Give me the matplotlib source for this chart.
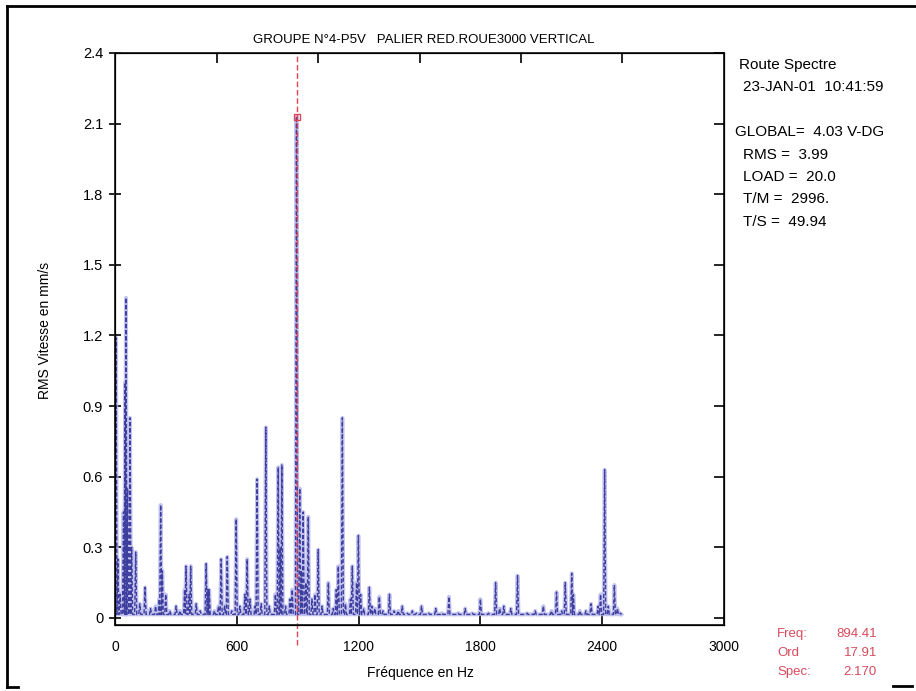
import matplotlib
matplotlib.use("Agg")
import matplotlib.pyplot as plt
from matplotlib.lines import Line2D

plt.rcParams['font.family'] = ['Liberation Sans', 'DejaVu Sans']

# spectrum peaks (Hz, mm/s RMS)
peak_freq = [5, 14, 25, 42, 50, 54, 62, 74, 82, 102, 122, 148, 175, 200, 218, 225, 233, 250,
             270, 301, 320, 343, 350, 365, 373, 400, 420, 449, 458, 464, 490, 510, 523, 540,
             553, 575, 597, 615, 640, 651, 665, 690, 700, 720, 743, 760, 790, 804, 814, 822,
             840, 862, 873, 894, 910, 918, 927, 940, 952, 970, 985, 1001, 1020, 1051, 1075,
             1090, 1100, 1120, 1135, 1160, 1169, 1190, 1199, 1210, 1225, 1253, 1265, 1280,
             1302, 1320, 1352, 1375, 1395, 1415, 1440, 1465, 1485, 1510, 1545, 1580, 1610,
             1645, 1690, 1725, 1760, 1800, 1840, 1875, 1895, 1915, 1950, 1983, 2030, 2070,
             2110, 2150, 2175, 2200, 2218, 2250, 2258, 2290, 2320, 2345, 2380, 2392, 2412,
             2430, 2460, 2475, 2490]
peak_amp = [1.19, 0.25, 0.10, 0.45, 1.00, 1.36, 0.55, 0.85, 0.30, 0.28, 0.06, 0.13, 0.04, 0.05,
            0.08, 0.48, 0.20, 0.10, 0.03, 0.05, 0.03, 0.12, 0.22, 0.10, 0.22, 0.06, 0.03, 0.23,
            0.12, 0.12, 0.03, 0.05, 0.25, 0.05, 0.26, 0.03, 0.42, 0.05, 0.10, 0.25, 0.08, 0.05,
            0.59, 0.06, 0.81, 0.05, 0.10, 0.64, 0.30, 0.65, 0.05, 0.08, 0.12, 2.13, 0.55, 0.20,
            0.45, 0.15, 0.43, 0.08, 0.10, 0.29, 0.05, 0.15, 0.04, 0.12, 0.22, 0.85, 0.06, 0.08,
            0.22, 0.15, 0.35, 0.10, 0.04, 0.13, 0.05, 0.04, 0.09, 0.03, 0.10, 0.03, 0.03, 0.05,
            0.02, 0.03, 0.02, 0.05, 0.02, 0.04, 0.02, 0.09, 0.02, 0.04, 0.02, 0.08, 0.02, 0.15,
            0.04, 0.05, 0.04, 0.18, 0.02, 0.03, 0.05, 0.03, 0.11, 0.03, 0.15, 0.19, 0.10, 0.03,
            0.03, 0.06, 0.05, 0.10, 0.63, 0.05, 0.14, 0.04, 0.02]
noise_floor = 0.015

cursor_freq = 894.41
cursor_spec = 2.13

x_ticks = [0, 600, 1200, 1800, 2400, 3000]
top_ticks = [500, 1000, 1500, 2000, 2500]
y_ticks = [0, 0.3, 0.6, 0.9, 1.2, 1.5, 1.8, 2.1, 2.4]
y_labels = ['0', '0.3', '0.6', '0.9', '1.2', '1.5', '1.8', '2.1', '2.4']

info_lines = [("Route Spectre", 739, 65), ("23-JAN-01  10:41:59", 743, 87),
              ("GLOBAL=  4.03 V-DG", 735, 132), ("RMS =  3.99", 743, 155),
              ("LOAD =  20.0", 743, 177), ("T/M =  2996.", 743, 199),
              ("T/S =  49.94", 743, 222)]
cursor_names = ["Freq:", "Ord", "Spec:"]
cursor_vals = ["894.41", "17.91", "2.170"]

W, H = 916, 691
fig = plt.figure(figsize=(W / 100, H / 100), dpi=100)
ax = fig.add_axes([115 / W, 1 - 625 / H, (724 - 115) / W, (625 - 53) / H])

# build the spike trace
xs, ys = [0], [noise_floor]
for f, a in sorted(zip(peak_freq, peak_amp)):
    xs += [f - 5, f, f + 5]
    ys += [noise_floor, a, noise_floor]

ax.plot(xs, ys, color='#b4b4ec', lw=2.8, alpha=0.8)
ax.plot(xs, ys, color='#3e3e9e', lw=1.0, dashes=(3, 1.5))

# cursor
ax.plot([cursor_freq, cursor_freq], [-0.115, 2.4], color='#e04555', lw=1.0,
        dashes=(4, 2), clip_on=False)
ax.plot([cursor_freq], [cursor_spec], marker='s', ms=5, mfc='none', mec='#e04555', mew=1)

ax.set_xlim(0, 3000)
ax.set_ylim(-0.03, 2.4)
ax.set_xticks(x_ticks)
ax.set_yticks(y_ticks)
ax.set_yticklabels(y_labels)
ax.tick_params(axis='x', direction='in', length=7, width=1.2, pad=11, labelsize=10)
ax.tick_params(axis='y', direction='inout', length=9, width=1.2, pad=4, labelsize=10.5)
for s in ax.spines.values():
    s.set_linewidth(1.3)
    s.set_color('#222222')

ax2 = ax.twinx()
ax2.set_ylim(-0.03, 2.4)
ax2.set_yticks(y_ticks)
ax2.tick_params(direction='in', length=7, width=1.2, labelright=False)
ax3 = ax.twiny()
ax3.set_xlim(0, 3000)
ax3.set_xticks(top_ticks)
ax3.tick_params(direction='in', length=7, width=1.2, labeltop=False)

fig.text(424 / W, 1 - 40 / H, "GROUPE N°4-P5V   PALIER RED.ROUE3000 VERTICAL",
         ha='center', va='center', fontsize=9.5)
fig.text(45 / W, 1 - 330 / H, "RMS Vitesse en mm/s", rotation=90,
         ha='center', va='center', fontsize=10)
fig.text(420 / W, 1 - 673 / H, "Fréquence en Hz", ha='center', va='center', fontsize=10)

for txt, x, y in info_lines:
    fig.text(x / W, 1 - y / H, txt, ha='left', va='center', fontsize=11)

for i, (n, v) in enumerate(zip(cursor_names, cursor_vals)):
    y = 1 - (634 + 19 * i) / H
    fig.text(777 / W, y, n, ha='left', va='center', fontsize=9.5, color='#d84a5c')
    fig.text(877 / W, y, v, ha='right', va='center', fontsize=9.5, color='#d84a5c')

# scanned page frame
def px_line(x0, y0, x1, y1):
    fig.add_artist(Line2D([x0 / W, x1 / W], [1 - y0 / H, 1 - y1 / H],
                          transform=fig.transFigure, color='black', lw=2))

px_line(7, 6, 916, 6)
px_line(7, 6, 7, 687)
px_line(7, 687, 18, 687)
px_line(893, 686, 912, 686)

fig.savefig("out.png", dpi=100)
